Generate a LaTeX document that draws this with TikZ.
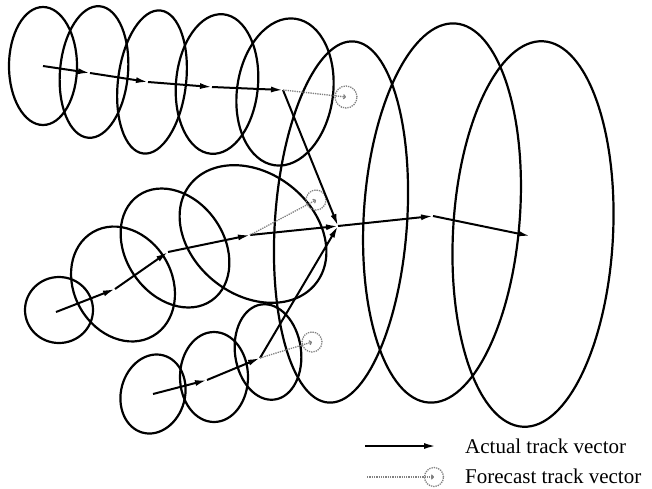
\documentclass[tikz,border=0pt]{standalone}
\usepackage{fontspec}
\setmainfont{Liberation Serif}
\usetikzlibrary{arrows.meta}
\begin{document}
\begin{tikzpicture}[x=1pt,y=-1pt,
  ell/.style={draw=black, line width=2.2pt},
  trk/.style={draw=black, line width=2pt, -{Latex[length=12pt,width=6pt]}},
  fline/.style={draw=black!50, line width=1.3pt, densely dotted, -{To[length=3pt,width=5pt]}},
  fcirc/.style={draw=black!50, line width=1.3pt, densely dotted, circle, minimum size=22pt, inner sep=0pt},
  legtext/.style={anchor=base west, inner sep=0pt, font=\fontsize{21}{24}\selectfont}]
\useasboundingbox (0,0) rectangle (652,488);

% top row of uncertainty ellipses
\draw[ell] (43,66) ellipse [x radius=34pt, y radius=59pt];
\draw[ell, rotate around={-5:(94,72)}] (94,72) ellipse [x radius=34pt, y radius=66pt];
\draw[ell, rotate around={-7:(152,82)}] (152,82) ellipse [x radius=34pt, y radius=72pt];
\draw[ell, rotate around={-5:(217,84)}] (217,84) ellipse [x radius=41pt, y radius=70pt];
\draw[ell, rotate around={-8:(285,92)}] (285,92) ellipse [x radius=48pt, y radius=74pt];

% middle row
\draw[ell] (59,310) ellipse [x radius=34pt, y radius=33pt];
\draw[ell, rotate around={30:(123,284)}] (123,284) ellipse [x radius=49pt, y radius=60pt];
\draw[ell, rotate around={35:(175,248)}] (175,248) ellipse [x radius=49pt, y radius=64pt];
\draw[ell, rotate around={-38:(253,234)}] (253,234) ellipse [x radius=80pt, y radius=61pt];

% bottom row
\draw[ell, rotate around={-15:(153,394)}] (153,394) ellipse [x radius=32pt, y radius=40pt];
\draw[ell] (214,377) ellipse [x radius=34pt, y radius=45pt];
\draw[ell, rotate around={8:(268,352)}] (268,352) ellipse [x radius=33pt, y radius=48pt];

% merged track ellipses
\draw[ell, rotate around={-4:(341,222)}] (341,222) ellipse [x radius=66pt, y radius=181pt];
\draw[ell, rotate around={-4:(442,213)}] (442,213) ellipse [x radius=78pt, y radius=190pt];
\draw[ell, rotate around={-3:(533,234)}] (533,234) ellipse [x radius=80pt, y radius=193pt];

% track points
\coordinate (T0) at (43,66);
\coordinate (T1) at (90,73);
\coordinate (T2) at (148,82);
\coordinate (T3) at (212,87);
\coordinate (T4) at (283,90);
\coordinate (P0) at (56,312);
\coordinate (P1) at (115,289);
\coordinate (P2) at (168,252);
\coordinate (P3) at (250,235);
\coordinate (Q0) at (153,394);
\coordinate (Q1) at (207,380);
\coordinate (Q2) at (260,358);
\coordinate (J) at (338,226);
\coordinate (K) at (433,216);
\coordinate (L) at (530,236);

% forecast circles
\node[fcirc] (F1) at (346,97) {};
\node[fcirc, minimum size=20pt] (F2) at (316,200) {};
\node[fcirc, minimum size=20pt] (F3) at (312,342) {};

% actual tracks
\draw[trk] (T0) -- (T1);
\draw[trk] (T1) -- (T2);
\draw[trk] (T2) -- (T3);
\draw[trk] (T3) -- (T4);
\draw[trk] (T4) -- (J);
\draw[trk] (P0) -- (P1);
\draw[trk] (P1) -- (P2);
\draw[trk] (P2) -- (P3);
\draw[trk] (P3) -- (J);
\draw[trk] (Q0) -- (Q1);
\draw[trk] (Q1) -- (Q2);
\draw[trk] (Q2) -- (J);
\draw[trk] (J) -- (K);
\draw[trk] (K) -- (L);

% forecast tracks
\draw[fline] (T4) -- (F1.center);
\draw[fline] (P3) -- (F2.center);
\draw[fline] (Q2) -- (F3.center);

% legend
\coordinate (LA0) at (365,446);
\coordinate (LA1) at (436,446);
\draw[trk] (LA0) -- (LA1);
\node[legtext] (LT1) at (465,453) {Actual track vector};
\node[fcirc, minimum size=19pt] (LF) at (434,477) {};
\coordinate (LF0) at (367,477);
\draw[fline] (LF0) -- (LF.center);
\node[legtext] (LT2) at (465,483) {Forecast track vector};
\end{tikzpicture}
\end{document}
